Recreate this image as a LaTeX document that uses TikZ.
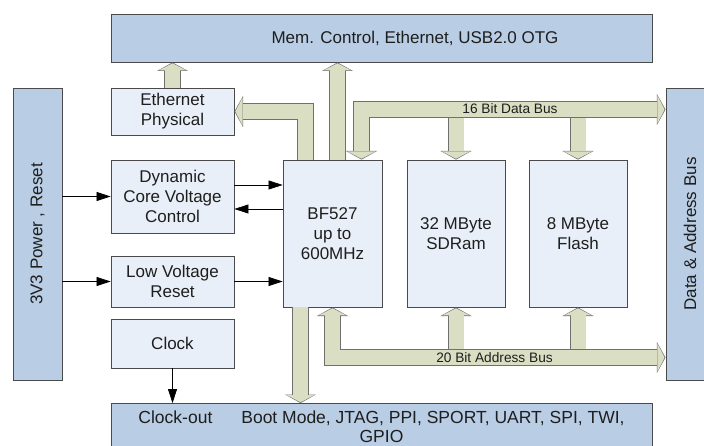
\documentclass[tikz,border=0pt]{standalone}
\usepackage{fontspec}
\setmainfont{Liberation Sans}
\usetikzlibrary{positioning, arrows.meta}
\definecolor{Frame}{HTML}{B9CDE5}
\definecolor{Inner}{HTML}{E9EFF8}
\definecolor{Shaft}{HTML}{DAdfC3}
\definecolor{Rim}{HTML}{707070}
\definecolor{Edge}{HTML}{4A4A4A}
\definecolor{Ink}{HTML}{1E1E1E}
\tikzset{
    framebox/.style={rectangle, draw=Edge, fill=Frame, line width=0.8pt, text=Ink, align=center, inner sep=0pt, font=\fontsize{17}{20}\selectfont},
    blockbox/.style={framebox, fill=Inner},
    thinarrow/.style={-{Triangle[length=14pt, width=9pt]}, line width=0.7pt, color=black},
    fatarrow/.style={line width=15pt, draw=Shaft, -{Triangle[length=7.2pt, width=28pt, line width=0pt]}, shorten >=0.9pt,
        preaction={draw=Rim, line width=16.6pt, -{Triangle[length=8.6pt, width=31pt, line width=0pt]}, shorten >=0pt}},
    fatbus/.style={line width=15pt, draw=Shaft, {Triangle[length=7.2pt, width=28pt, line width=0pt]}-{Triangle[length=7.2pt, width=28pt, line width=0pt]}, shorten >=0.9pt, shorten <=0.9pt,
        preaction={draw=Rim, line width=16.6pt, {Triangle[length=8.6pt, width=31pt, line width=0pt]}-{Triangle[length=8.6pt, width=31pt, line width=0pt]}, shorten >=0pt, shorten <=0pt}},
    buslabel/.style={font=\fontsize{13.7}{16}\selectfont, text=Ink, inner sep=0pt},
}

\begin{document}
\begin{tikzpicture}[x=1pt, y=-1pt]
    \clip (0,0) rectangle (704,446);
    \fill[white] (0,0) rectangle (704,446);

    % Outer interface bars
    \node[framebox, minimum width=541pt, minimum height=48pt] (top) at (381.5,38) {\hspace*{67pt}Mem. Control, Ethernet, USB2.0 OTG};
    \node[framebox, minimum width=541pt, minimum height=47pt, font=\fontsize{17.5}{19}\selectfont] (bot) at (381.5,427) {Clock-out\hspace{29pt}Boot Mode, JTAG, PPI, SPORT, UART, SPI, TWI,\\GPIO};
    \node[framebox, rotate=90, minimum width=292pt, minimum height=49pt] (pwr) at (37.5,234) {3V3 Power , Reset};
    \node[framebox, rotate=90, minimum width=292pt, minimum height=48pt] (bus) at (690,234) {Data \& Address Bus};

    % Left column blocks
    \node[blockbox, minimum width=123pt, minimum height=47pt] (eth) at (172.5,111.5) {Ethernet\\Physical};
    \node[blockbox, minimum width=123pt, minimum height=73pt] (dcv) at (172.5,196.5) {Dynamic\\Core Voltage\\Control};
    \node[blockbox, minimum width=123pt, minimum height=51pt] (lvr) at (172.5,281.5) {Low Voltage\\Reset};
    \node[blockbox, minimum width=123pt, minimum height=49pt] (clk) at (172.5,343.5) {Clock};

    % Processor and memories
    \node[blockbox, minimum width=99pt, minimum height=147pt] (cpu) at (332.5,233.5) {BF527\\up to\\600MHz};
    \node[blockbox, minimum width=98pt, minimum height=147pt] (sdr) at (456,233.5) {32 MByte\\SDRam};
    \node[blockbox, minimum width=98pt, minimum height=147pt] (fls) at (578,233.5) {8 MByte\\Flash};

    % Bus end points and shaft offsets
    \coordinate (dbus) at (665.5,109.5);
    \coordinate (abus) at (665.5,357.5);
    \coordinate (cpuup) at ([xshift=5pt]cpu.north);
    \coordinate (cpueth) at ([xshift=-27pt]cpu.north);
    \coordinate (cpudata) at ([xshift=29pt]cpu.north);
    \coordinate (cpudn) at ([xshift=-32pt]cpu.south);

    % Memory branches (under the buses)
    \draw[fatarrow] (sdr.north |- dbus) -- (sdr.north);
    \draw[fatarrow] (fls.north |- dbus) -- (fls.north);
    \draw[fatarrow] (sdr.south |- abus) -- (sdr.south);
    \draw[fatarrow] (fls.south |- abus) -- (fls.south);

    % Data and address buses
    \draw[fatbus] (cpudata) |- (dbus);
    \draw[fatbus] (cpu.south) |- (abus);
    \node[buslabel] (dlabel) at (510,108.5) {16 Bit Data Bus};
    \node[buslabel] (alabel) at (494.5,358) {20 Bit Address Bus};

    % Links to top and bottom bars
    \draw[fatarrow] (eth.north) -- (eth.north |- top.south);
    \draw[fatarrow] (cpueth) |- (eth.east);
    \draw[fatarrow] (cpuup) -- (cpuup |- top.south);
    \draw[fatarrow] (cpudn) -- (cpudn |- bot.north);

    % Control signals
    \coordinate (dcvhi) at ([yshift=11.5pt]dcv.east);
    \coordinate (dcvlo) at ([yshift=-12.5pt]dcv.east);
    \draw[thinarrow] (pwr.south |- dcv.west) -- (dcv.west);
    \draw[thinarrow] (pwr.south |- lvr.west) -- (lvr.west);
    \draw[thinarrow] (dcvhi) -- (dcvhi -| cpu.west);
    \draw[thinarrow] (dcvlo -| cpu.west) -- (dcvlo);
    \draw[thinarrow] (lvr.east) -- (lvr.east -| cpu.west);
    \draw[thinarrow] (clk.south) -- (clk.south |- bot.north);
\end{tikzpicture}
\end{document}
